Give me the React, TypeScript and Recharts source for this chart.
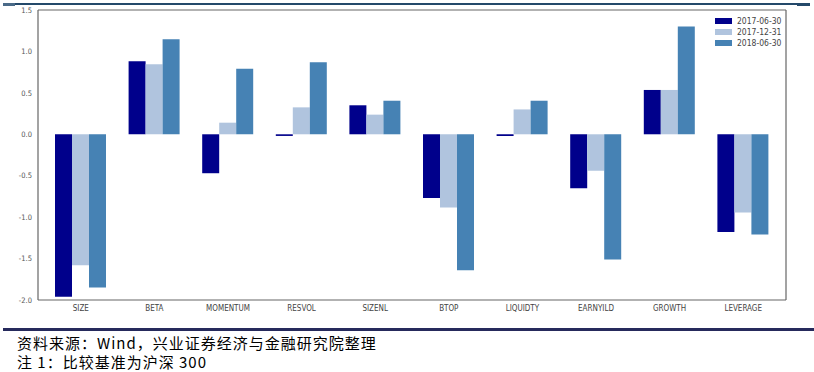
import { BarChart, Bar, XAxis, YAxis, Legend } from "recharts";

// factor names and exposures
const factors = [
  "SIZE",
  "BETA",
  "MOMENTUM",
  "RESVOL",
  "SIZENL",
  "BTOP",
  "LIQUIDTY",
  "EARNYILD",
  "GROWTH",
  "LEVERAGE",
];
const exp20170630 = [-1.96, 0.88, -0.47, -0.02, 0.35, -0.77, -0.02, -0.65, 0.535, -1.18];
const exp20171231 = [-1.58, 0.845, 0.14, 0.325, 0.237, -0.885, 0.3, -0.44, 0.535, -0.945];
const exp20180630 = [-1.85, 1.146, 0.79, 0.87, 0.405, -1.64, 0.405, -1.51, 1.3, -1.21];
const yTicks = [-2.0, -1.5, -1.0, -0.5, 0.0, 0.5, 1.0, 1.5];

const series = [
  { key: "2017-06-30", values: exp20170630, color: "#00008b" },
  { key: "2017-12-31", values: exp20171231, color: "#b0c4de" },
  { key: "2018-06-30", values: exp20180630, color: "#4682b4" },
];

const data = factors.map((f, i) => {
  const row: Record<string, string | number> = { factor: f };
  series.forEach((s) => (row[s.key] = s.values[i]));
  return row;
});

const tickFont = "'DejaVu Sans Condensed', 'DejaVu Sans', sans-serif";
const frame = { stroke: "#666", strokeWidth: 1.2 };
const noteStyle = {
  position: "absolute" as const,
  left: 17,
  height: 19,
  fontSize: 15,
  lineHeight: "19px",
  letterSpacing: 1,
  color: "#000",
  fontFamily: "'Noto Sans CJK SC', sans-serif",
  whiteSpace: "nowrap" as const,
};

function FactorLegend() {
  return (
    <div style={{ fontFamily: tickFont, fontSize: 8.5, color: "#444" }}>
      {series.map((s) => (
        <div key={s.key} style={{ display: "flex", alignItems: "center", height: 11 }}>
          <span
            style={{
              display: "inline-block",
              width: 17,
              height: 6,
              background: s.color,
              marginRight: 5,
            }}
          />
          <span>{s.key}</span>
        </div>
      ))}
    </div>
  );
}

export default function App() {
  return (
    <div
      style={{
        position: "absolute",
        left: 0,
        top: 0,
        width: 814,
        height: 372,
        background: "#fff",
        overflow: "hidden",
      }}
    >
      {/* header rule */}
      <div style={{ position: "absolute", left: 3, top: 3, width: 807, height: 2, background: "#24496a" }} />
      <div style={{ position: "absolute", left: 3, top: 3, width: 12, height: 3, background: "#4a6a88" }} />
      <div style={{ position: "absolute", left: 797, top: 3, width: 13, height: 3, background: "#24496a" }} />

      <BarChart
        width={814}
        height={322}
        data={data}
        margin={{ top: 9, right: 27, bottom: 2, left: 8 }}
        barGap={0}
        barSize={17}
      >
        <XAxis
          xAxisId="main"
          dataKey="factor"
          height={20}
          padding={{ left: 6, right: 6 }}
          tickLine={false}
          tickSize={0}
          tickMargin={5}
          axisLine={frame}
          tick={{ fontSize: 8, fill: "#444", fontFamily: tickFont }}
          interval={0}
        />
        <XAxis
          xAxisId="top"
          orientation="top"
          dataKey="factor"
          height={1}
          tick={false}
          tickLine={false}
          axisLine={frame}
        />
        <YAxis
          yAxisId="main"
          width={30}
          domain={[-2, 1.5]}
          ticks={yTicks}
          tickFormatter={(v: number) => v.toFixed(1)}
          tickLine={false}
          tickSize={0}
          tickMargin={6}
          axisLine={frame}
          tick={{ fontSize: 7.5, fill: "#555", fontFamily: tickFont }}
        />
        <YAxis
          yAxisId="right"
          orientation="right"
          width={1}
          domain={[-2, 1.5]}
          tick={false}
          tickLine={false}
          axisLine={frame}
        />
        <Legend
          layout="vertical"
          align="center"
          verticalAlign="middle"
          content={() => <FactorLegend />}
          wrapperStyle={{ position: "absolute", left: 715, top: 15, width: 80 }}
        />
        {series.map((s) => (
          <Bar
            key={s.key}
            dataKey={s.key}
            xAxisId="main"
            yAxisId="main"
            fill={s.color}
            isAnimationActive={false}
          />
        ))}
      </BarChart>

      {/* source notes */}
      <div style={{ position: "absolute", left: 3, top: 328, width: 811, height: 3, background: "#262a5c" }} />
      <div style={{ ...noteStyle, top: 332.5 }}>资料来源：Wind，兴业证券经济与金融研究院整理</div>
      <div style={{ ...noteStyle, top: 351.5 }}>注 1：比较基准为沪深 300</div>
    </div>
  );
}
